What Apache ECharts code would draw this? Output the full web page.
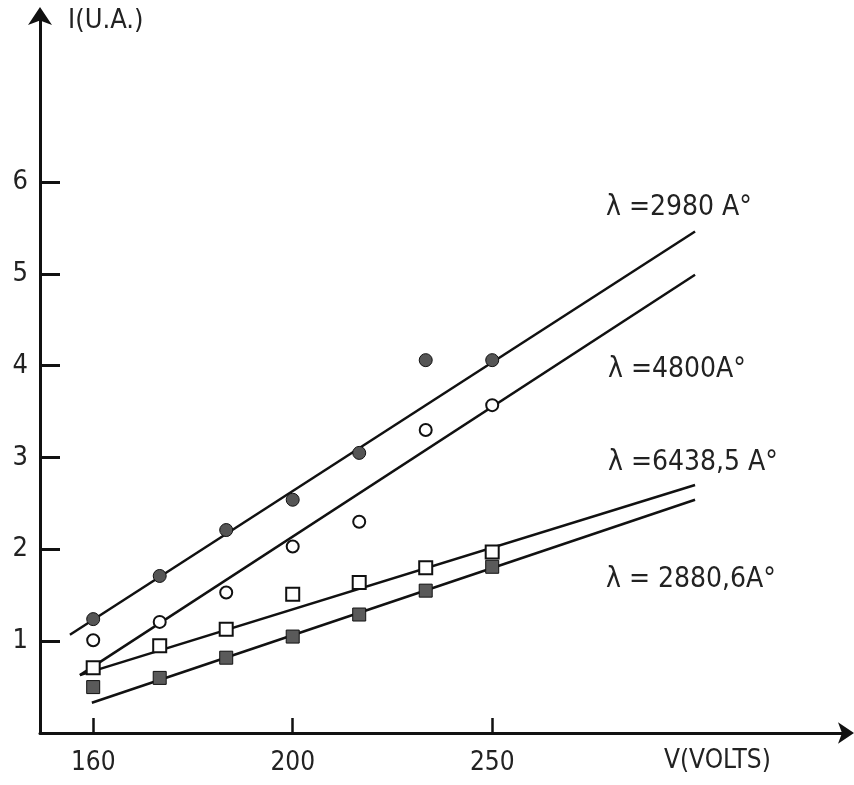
<!DOCTYPE html>
<html><head><meta charset="utf-8">
<script src="https://cdn.jsdelivr.net/npm/echarts@6/dist/echarts.min.js"></script>
<style>html,body{margin:0;padding:0;background:#fff}#c{width:854px;height:785px}</style>
</head><body><div id="c"></div>
<script>
// x positions are equally spaced measurement steps; tick labels give the voltage
const xSteps = [0, 1, 2, 3, 4, 5, 6];
const xTickPos = [0, 3, 6];
const xTickLabels = ['160', '200', '250'];
const yTicks = [1, 2, 3, 4, 5, 6];

const s2980 = [1.24, 1.71, 2.21, 2.54, 3.05, 4.06, 4.06];
const s4800 = [1.01, 1.21, 1.53, 2.03, 2.30, 3.30, 3.57];
const s6438 = [0.71, 0.95, 1.13, 1.51, 1.64, 1.80, 1.97];
const s2880 = [0.50, 0.60, 0.82, 1.05, 1.29, 1.55, 1.81];

// fitted straight lines: [x, y] endpoints
const fit2980 = [[-0.35, 1.07], [9.05, 5.46]];
const fit4800 = [[-0.2, 0.63], [9.05, 4.99]];
const fit6438 = [[-0.2, 0.63], [9.05, 2.70]];
const fit2880 = [[-0.02, 0.33], [9.05, 2.54]];

const labels = ['λ =2980 A°', 'λ =4800A°', 'λ =6438,5 A°', 'λ = 2880,6A°'];

const pts = arr => arr.map((v, i) => [xSteps[i], v]);
const font = '"DejaVu Sans Condensed", "Liberation Sans Narrow", sans-serif';
const chart = echarts.init(document.getElementById('c'));

function fitLine(d) {
  return { type: 'line', data: d, showSymbol: false, silent: true, z: 2,
    lineStyle: { color: '#111', width: 2.5 } };
}
function scatter(d, symbol, fill, size) {
  return { type: 'scatter', data: pts(d), symbol: symbol, symbolSize: size, z: 5,
    itemStyle: { color: fill, borderColor: '#111', borderWidth: fill === '#fff' ? 2 : 1, opacity: 1 } };
}

chart.setOption({
  animation: false,
  grid: { left: 40, right: 6, top: 13, bottom: 52 },
  xAxis: {
    type: 'value', min: -0.8, max: 11.35,
    splitLine: { show: false },
    axisLine: { onZero: false, lineStyle: { color: '#111', width: 3 }, symbol: ['none', 'arrow'], symbolSize: [16, 16], symbolOffset: [0, 6] },
    axisTick: { inside: true, length: 15, lineStyle: { color: '#111', width: 2.5 }, customValues: xTickPos },
    axisLabel: { customValues: xTickPos, margin: 17, fontFamily: font, fontSize: 26, color: '#222',
      formatter: v => xTickLabels[xTickPos.indexOf(Math.round(v))] || '' }
  },
  yAxis: {
    type: 'value', min: 0, max: 7.84,
    splitLine: { show: false },
    axisLine: { onZero: false, lineStyle: { color: '#111', width: 3 }, symbol: ['none', 'arrow'], symbolSize: [18, 18], symbolOffset: [0, 6] },
    axisTick: { inside: true, length: 20, lineStyle: { color: '#111', width: 3 }, customValues: yTicks },
    axisLabel: { customValues: yTicks, margin: 12, fontFamily: font, fontSize: 27, color: '#222' }
  },
  series: [
    fitLine(fit2980), fitLine(fit4800), fitLine(fit6438), fitLine(fit2880),
    scatter(s2980, 'circle', '#555', 13),
    scatter(s4800, 'circle', '#fff', 12),
    scatter(s6438, 'rect', '#fff', 13),
    scatter(s2880, 'rect', '#5a5a5a', 13)
  ],
  graphic: [
    { type: 'text', left: 68, top: 7, style: { text: 'I(U.A.)', font: '27px ' + font, fill: '#222' } },
    { type: 'text', left: 664, top: 748, style: { text: 'V(VOLTS)', font: '26px ' + font, fill: '#222' } },
    { type: 'text', left: 606, top: 194, style: { text: labels[0], font: '28px ' + font, fill: '#222' } },
    { type: 'text', left: 608, top: 356, style: { text: labels[1], font: '28px ' + font, fill: '#222' } },
    { type: 'text', left: 608, top: 449, style: { text: labels[2], font: '28px ' + font, fill: '#222' } },
    { type: 'text', left: 606, top: 566, style: { text: labels[3], font: '28px ' + font, fill: '#222' } }
  ]
});
</script></body></html>
